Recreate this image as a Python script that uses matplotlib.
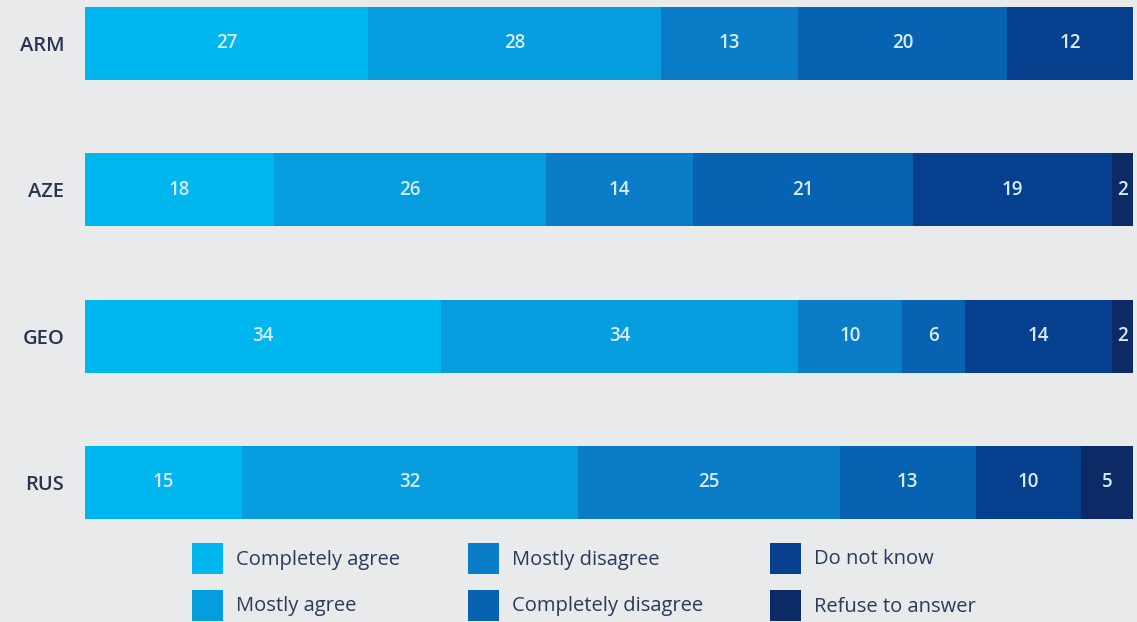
import matplotlib
matplotlib.use("Agg")
import matplotlib.pyplot as plt
from matplotlib.patches import Rectangle
import numpy as np

plt.rcParams['font.family'] = ['Open Sans', 'DejaVu Sans']

countries = ["ARM", "AZE", "GEO", "RUS"]
categories = ["Completely agree", "Mostly agree", "Mostly disagree",
              "Completely disagree", "Do not know", "Refuse to answer"]
completely_agree = [27, 18, 34, 15]
mostly_agree = [28, 26, 34, 32]
mostly_disagree = [13, 14, 10, 25]
completely_disagree = [20, 21, 6, 13]
do_not_know = [12, 19, 14, 10]
refuse = [0, 2, 2, 5]

series = [completely_agree, mostly_agree, mostly_disagree,
          completely_disagree, do_not_know, refuse]
colors = ["#00b6ef", "#059ddd", "#0a7cc8", "#0762b2", "#063f8e", "#0b2a66"]

BG = "#e8eaec"
W, H = 1137, 622
fig = plt.figure(figsize=(W / 100, H / 100), dpi=100, facecolor=BG)

ax_left, ax_right = 85, 1133
ax_top, ax_bot = 0, 530
ax = fig.add_axes([ax_left / W, 1 - ax_bot / H, (ax_right - ax_left) / W, (ax_bot - ax_top) / H])
ax.set_facecolor(BG)

y = np.arange(len(countries))
left = np.zeros(len(countries))
for vals, col in zip(series, colors):
    vals = np.array(vals, dtype=float)
    ax.barh(y, vals, left=left, height=0.5, color=col, edgecolor="none")
    for yi, (l, v) in enumerate(zip(left, vals)):
        if v > 0:
            ax.text(l + v / 2, yi, f"{int(v)}", ha="center", va="center",
                    color="#d6ecf8", fontsize=13.5, fontweight="semibold")
    left += vals

ax.set_xlim(0, 100)
ax.set_ylim(3.325, -0.297)
ax.set_yticks(y)
ax.set_yticklabels(countries, fontsize=14.5, fontweight="semibold", color="#2b3452")
ax.tick_params(axis="y", length=0, pad=15)
ax.set_xticks([])
for s in ax.spines.values():
    s.set_visible(False)

# legend (manual, 3 columns x 2 rows)
col_x = [192, 468, 770]
row_y = [543, 590]
sq = 31
for i, (cat, col) in enumerate(zip(categories, colors)):
    cx = col_x[i // 2]
    ry = row_y[i % 2]
    fig.patches.append(Rectangle((cx / W, 1 - (ry + sq) / H), sq / W, sq / H,
                                 transform=fig.transFigure, facecolor=col,
                                 edgecolor="none"))
    fig.text((cx + sq + 13) / W, 1 - (ry + sq / 2 + 1) / H, cat, ha="left", va="center",
             fontsize=14.5, color="#2b3a5a")

fig.savefig("out.png", dpi=100, facecolor=BG)
